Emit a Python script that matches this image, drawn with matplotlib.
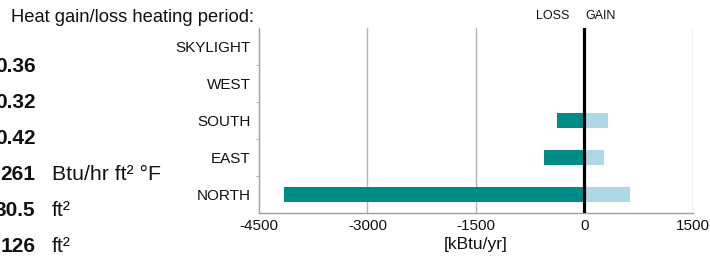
import matplotlib
matplotlib.use('Agg')
import matplotlib.pyplot as plt
from matplotlib.ticker import FixedLocator

plt.rcParams['font.family'] = ['Liberation Sans', 'DejaVu Sans']

# data
categories = ['NORTH', 'EAST', 'SOUTH', 'WEST', 'SKYLIGHT']
loss = [-4150, -560, -380, 0, 0]
gain = [630, 270, 330, 0, 0]
xticks = [-4500, -3000, -1500, 0, 1500]

side_values = ['0.36', '0.32', '0.42', '261', '30.5', '126']
side_units = ['', '', '', 'Btu/hr ft² °F', 'ft²', 'ft²']

W, H = 710, 260
fig = plt.figure(figsize=(W / 100, H / 100), dpi=100)
ax = fig.add_axes([259 / W, 1 - 213 / H, (692.7 - 259) / W, (213 - 28) / H])

ypos = range(len(categories))
ax.barh(ypos, loss, height=0.4, color='#008C86', zorder=2)
ax.barh(ypos, gain, height=0.4, color='#ADD8E6', zorder=2)

ax.set_xlim(-4500, 1500)
ax.set_ylim(-0.5, len(categories) - 0.5)
ax.set_xticks(xticks)
ax.set_xticklabels([str(t) for t in xticks])
ax.set_yticks(list(ypos))
ax.set_yticklabels(categories)
ax.yaxis.set_minor_locator(FixedLocator([i + 0.5 for i in range(len(categories) - 1)]))

for t in xticks[1:]:
    if t == 0:
        ax.axvline(0, color='black', lw=2.3, zorder=3)
    else:
        ax.axvline(t, color='#b4b4b4', lw=1.0, zorder=1)

for s in ['top', 'right']:
    ax.spines[s].set_visible(False)
for s in ['left', 'bottom']:
    ax.spines[s].set_color('#a0a0a0')
    ax.spines[s].set_linewidth(1.0)

ax.tick_params(axis='x', length=0, labelsize=11, pad=4, colors='#111111')
ax.tick_params(axis='y', which='major', length=0, labelsize=11, pad=6, colors='#111111')
ax.tick_params(axis='y', which='minor', length=2.5, color='#a0a0a0')
ax.set_xlabel('[kBtu/yr]', fontsize=12.5, labelpad=3, color='#111111')

ax.text(-210, 1.035, 'LOSS', transform=ax.get_xaxis_transform(), ha='right', va='bottom',
        fontsize=9, color='#111111')
ax.text(20, 1.035, 'GAIN', transform=ax.get_xaxis_transform(), ha='left', va='bottom',
        fontsize=9, color='#111111')

fig.text(11 / W, 1 - 17 / H, 'Heat gain/loss heating period:', ha='left', va='center',
         fontsize=13.2, color='#111111')

for i, (v, u) in enumerate(zip(side_values, side_units)):
    y = 1 - (67 + i * 36) / H
    fig.text(35.5 / W, y, v, ha='right', va='center', fontsize=15, fontweight='bold', color='#111111')
    if u:
        fig.text(52 / W, y, u, ha='left', va='center', fontsize=15.3, color='#111111')

fig.savefig('out.png', dpi=100)
